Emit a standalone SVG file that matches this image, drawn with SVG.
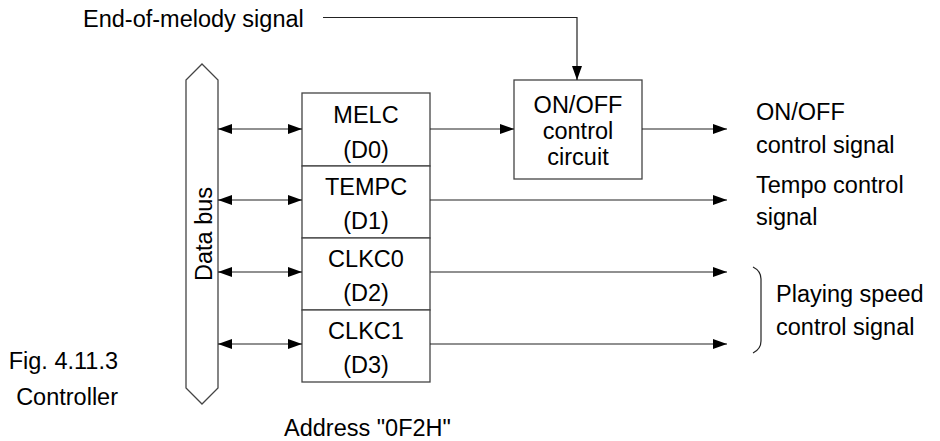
<svg xmlns="http://www.w3.org/2000/svg" width="940" height="441" viewBox="0 0 940 441">
  <style>
    text { font-family: "Liberation Sans", Arial, sans-serif; font-size: 23.5px; fill: #000; }
    .c { text-anchor: middle; }
    .e { text-anchor: end; }
    .box { fill: #fff; stroke: #444; stroke-width: 1.3; }
    .wire { fill: none; stroke: #222; stroke-width: 1.2; }
  </style>
  <defs>
    <marker id="arr" viewBox="0 0 14 10" refX="14" refY="5" markerWidth="14" markerHeight="10" markerUnits="userSpaceOnUse" orient="auto-start-reverse">
      <path d="M0,0 L14,5 L0,10 Z" fill="#000"/>
    </marker>
  </defs>

  <!-- data bus -->
  <g id="data-bus">
    <path class="box" d="M202,64 L218,80 L218,388 L202,404 L186,388 L186,80 Z"/>
    <text transform="translate(211.5,234) rotate(-90)" class="c">Data bus</text>
  </g>

  <!-- controller register, bits D0..D3 -->
  <g id="reg-melc">
    <rect class="box" x="302" y="93" width="128" height="73"/>
    <text x="366" y="123" class="c">MELC</text>
    <text x="366" y="158" class="c">(D0)</text>
  </g>
  <g id="reg-tempc">
    <rect class="box" x="302" y="166" width="128" height="72"/>
    <text x="366" y="195" class="c">TEMPC</text>
    <text x="366" y="229" class="c">(D1)</text>
  </g>
  <g id="reg-clkc0">
    <rect class="box" x="302" y="238" width="128" height="72"/>
    <text x="366" y="267" class="c">CLKC0</text>
    <text x="366" y="301" class="c">(D2)</text>
  </g>
  <g id="reg-clkc1">
    <rect class="box" x="302" y="310" width="128" height="72"/>
    <text x="366" y="339" class="c">CLKC1</text>
    <text x="366" y="373" class="c">(D3)</text>
  </g>

  <!-- on/off control circuit -->
  <g id="onoff-circuit">
    <rect class="box" x="514" y="80" width="128" height="99"/>
    <text x="578" y="113" class="c">ON/OFF</text>
    <text x="578" y="139" class="c">control</text>
    <text x="578" y="165" class="c">circuit</text>
  </g>

  <!-- connectors -->
  <g id="connectors">
    <line class="wire" x1="218" y1="129" x2="302" y2="129" marker-start="url(#arr)" marker-end="url(#arr)"/>
    <line class="wire" x1="218" y1="200" x2="302" y2="200" marker-start="url(#arr)" marker-end="url(#arr)"/>
    <line class="wire" x1="218" y1="272" x2="302" y2="272" marker-start="url(#arr)" marker-end="url(#arr)"/>
    <line class="wire" x1="218" y1="344" x2="302" y2="344" marker-start="url(#arr)" marker-end="url(#arr)"/>

    <line class="wire" x1="430" y1="129" x2="514" y2="129" marker-end="url(#arr)"/>
    <polyline class="wire" points="323,17.5 577,17.5 577,80" marker-end="url(#arr)"/>

    <line class="wire" x1="642" y1="129" x2="727" y2="129" marker-end="url(#arr)"/>
    <line class="wire" x1="430" y1="200" x2="727" y2="200" marker-end="url(#arr)"/>
    <line class="wire" x1="430" y1="272" x2="727" y2="272" marker-end="url(#arr)"/>
    <line class="wire" x1="430" y1="344" x2="727" y2="344" marker-end="url(#arr)"/>

    <path class="wire" d="M753,267 Q761,271 761,279 L761,341 Q761,349 753,353"/>
  </g>

  <!-- labels -->
  <g id="labels">
    <text x="83" y="27">End-of-melody signal</text>
    <text x="756" y="120">ON/OFF</text>
    <text x="756" y="153">control signal</text>
    <text x="756" y="193">Tempo control</text>
    <text x="756" y="225">signal</text>
    <text x="776" y="302">Playing speed</text>
    <text x="776" y="335">control signal</text>
    <text x="118" y="369" class="e">Fig. 4.11.3</text>
    <text x="118" y="405" class="e">Controller</text>
    <text x="284" y="436">Address "0F2H"</text>
  </g>
</svg>
